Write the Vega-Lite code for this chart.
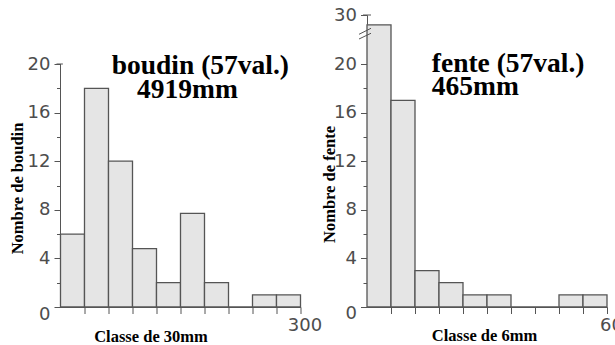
{
  "$schema": "https://vega.github.io/schema/vega-lite/v6.json",
  "autosize": {"type": "none"},
  "padding": {"left": 60.5, "top": 15, "right": 554.5, "bottom": 330},
  "background": "white",
  "bounds": "flush",
  "spacing": 66.5,
  "config": {
    "view": {"stroke": null},
    "axis": {
      "grid": false,
      "domainColor": "#555555",
      "tickColor": "#555555",
      "labelColor": "#4d4d4d",
      "labelFont": "DejaVu Sans",
      "labelFontSize": 18,
      "labelOverlap": false,
      "labelFlush": false,
      "titleFont": "Liberation Serif",
      "titleFontWeight": "bold",
      "titleFontSize": 16.5,
      "titleColor": "#000000"
    }
  },
  "datasets": {
    "boudin": [
      {"start": 0, "end": 30, "count": 6},
      {"start": 30, "end": 60, "count": 18},
      {"start": 60, "end": 90, "count": 12},
      {"start": 90, "end": 120, "count": 4.8},
      {"start": 120, "end": 150, "count": 2},
      {"start": 150, "end": 180, "count": 7.7},
      {"start": 180, "end": 210, "count": 2},
      {"start": 210, "end": 240, "count": 0},
      {"start": 240, "end": 270, "count": 1},
      {"start": 270, "end": 300, "count": 1}
    ],
    "fente": [
      {"start": 0, "end": 6, "count": 28},
      {"start": 6, "end": 12, "count": 17},
      {"start": 12, "end": 18, "count": 3},
      {"start": 18, "end": 24, "count": 2},
      {"start": 24, "end": 30, "count": 1},
      {"start": 30, "end": 36, "count": 1},
      {"start": 36, "end": 42, "count": 0},
      {"start": 42, "end": 48, "count": 0},
      {"start": 48, "end": 54, "count": 1},
      {"start": 54, "end": 60, "count": 1}
    ],
    "one": [{}]
  },
  "hconcat": [
    {
      "width": 240,
      "height": 292,
      "layer": [
        {
          "data": {"name": "boudin"},
          "mark": {"type": "bar", "fill": "#e5e5e5", "stroke": "#555555", "strokeWidth": 1.3, "clip": false},
          "encoding": {
            "x": {
              "field": "start", "type": "quantitative",
              "scale": {"domain": [0, 300], "nice": false, "zero": false},
              "axis": {
                "values": [30, 60, 90, 120, 150, 180, 210, 240, 270, 300],
                "tickCount": 100,
                "labelExpr": "datum.value == 300 ? '300' : ''",
                "labelOverlap": false,
                "labelFlush": false,
                "tickSize": 6.5,
                "labelPadding": 3,
                "labelOffset": 4,
                "title": "Classe de 30mm",
                "titleX": 90,
                "titleY": 34,
                "titleBaseline": "alphabetic",
                "titleAnchor": null
              }
            },
            "x2": {"field": "end"},
            "y": {
              "field": "count", "type": "quantitative",
              "scale": {"domain": [0, 20, 30], "range": [292, 49, 0], "nice": false, "zero": false},
              "axis": {
                "values": [0, 2, 4, 6, 8, 10, 12, 14, 16, 18, 20],
                "tickCount": 100,
                "format": "d",
                "labelExpr": "datum.value % 4 == 0 ? datum.label : ''",
                "labelOverlap": false,
                "tickSize": {"condition": {"test": "datum.value % 4 != 0", "value": 4}, "value": 6.5},
                "labelOffset": {"condition": {"test": "datum.value == 0", "value": 7}, "value": 0},
                "labelPadding": 4,
                "domain": false,
                "title": "Nombre de boudin",
                "titleX": -38,
                "titleY": 173,
                "titleAlign": "center",
                "titleBaseline": "alphabetic",
                "titleAngle": -90
              }
            },
            "y2": {"datum": 0}
          }
        },
        {
          "data": {"name": "one"},
          "mark": {"type": "rule", "color": "#555555", "strokeWidth": 1},
          "encoding": {
            "x": {"datum": 0},
            "y": {"datum": 0},
            "y2": {"datum": 20}
          }
        },
        {
          "data": {"name": "one"},
          "mark": {"type": "rule", "color": "#555555", "strokeWidth": 1, "clip": false},
          "encoding": {
            "x": {"datum": -5},
            "x2": {"datum": 3},
            "y": {"datum": 20}
          }
        },
        {
          "data": {"name": "one"},
          "mark": {"type": "text", "font": "Liberation Serif", "fontWeight": "bold", "fontSize": 27.5, "align": "left", "baseline": "alphabetic", "color": "#000000"},
          "encoding": {
            "x": {"datum": 64},
            "y": {"datum": 19.18},
            "text": {"value": "boudin (57val.)"}
          }
        },
        {
          "data": {"name": "one"},
          "mark": {"type": "text", "font": "Liberation Serif", "fontWeight": "bold", "fontSize": 27.5, "align": "left", "baseline": "alphabetic", "color": "#000000"},
          "encoding": {
            "x": {"datum": 95.6},
            "y": {"datum": 17.18},
            "text": {"value": "4919mm"}
          }
        }
      ]
    },
    {
      "width": 240,
      "height": 292,
      "layer": [
        {
          "data": {"name": "fente"},
          "mark": {"type": "bar", "fill": "#e5e5e5", "stroke": "#555555", "strokeWidth": 1.3, "clip": false},
          "encoding": {
            "x": {
              "field": "start", "type": "quantitative",
              "scale": {"domain": [0, 60], "nice": false, "zero": false},
              "axis": {
                "values": [6, 12, 18, 24, 30, 36, 42, 48, 54, 60],
                "tickCount": 100,
                "labelExpr": "datum.value == 60 ? '60' : ''",
                "labelOverlap": false,
                "labelFlush": false,
                "tickSize": 6.5,
                "labelPadding": 3,
                "labelOffset": 4,
                "title": "Classe de 6mm",
                "titleX": 117,
                "titleY": 33,
                "titleBaseline": "alphabetic",
                "titleAnchor": null
              }
            },
            "x2": {"field": "end"},
            "y": {
              "field": "count", "type": "quantitative",
              "scale": {"domain": [0, 20, 30], "range": [292, 49, 0], "nice": false, "zero": false},
              "axis": {
                "values": [0, 2, 4, 6, 8, 10, 12, 14, 16, 18, 20, 30],
                "tickCount": 100,
                "format": "d",
                "labelExpr": "(datum.value % 4 == 0 || datum.value == 30) ? datum.label : ''",
                "labelOverlap": false,
                "labelFlush": false,
                "tickSize": {"condition": {"test": "datum.value % 4 != 0 && datum.value != 30", "value": 4}, "value": 6.5},
                "labelOffset": {"condition": {"test": "datum.value == 0", "value": 6}, "value": 0},
                "labelPadding": 4,
                "title": "Nombre de fente",
                "titleX": -33,
                "titleY": 169,
                "titleAlign": "center",
                "titleBaseline": "alphabetic",
                "titleAngle": -90
              }
            },
            "y2": {"datum": 0}
          }
        },
        {
          "data": {"name": "one"},
          "mark": {"type": "rule", "color": "#555555", "strokeWidth": 1, "clip": false},
          "encoding": {
            "x": {"datum": -1},
            "x2": {"datum": 1},
            "y": {"datum": 30}
          }
        },
        {
          "data": {"name": "one"},
          "mark": {"type": "rule", "color": "#555555", "strokeWidth": 1, "clip": false},
          "encoding": {
            "x": {"datum": -2},
            "x2": {"datum": 1},
            "y": {"datum": 26.06},
            "y2": {"datum": 27.29}
          }
        },
        {
          "data": {"name": "one"},
          "mark": {"type": "rule", "color": "#555555", "strokeWidth": 1, "clip": false},
          "encoding": {
            "x": {"datum": -2},
            "x2": {"datum": 1},
            "y": {"datum": 25.1},
            "y2": {"datum": 26.27}
          }
        },
        {
          "data": {"name": "one"},
          "mark": {"type": "text", "font": "Liberation Serif", "fontWeight": "bold", "fontSize": 27.5, "align": "left", "baseline": "alphabetic", "color": "#000000"},
          "encoding": {
            "x": {"datum": 16.2},
            "y": {"datum": 19.37},
            "text": {"value": "fente (57val.)"}
          }
        },
        {
          "data": {"name": "one"},
          "mark": {"type": "text", "font": "Liberation Serif", "fontWeight": "bold", "fontSize": 27.5, "align": "left", "baseline": "alphabetic", "color": "#000000"},
          "encoding": {
            "x": {"datum": 16.2},
            "y": {"datum": 17.45},
            "text": {"value": "465mm"}
          }
        }
      ]
    }
  ]
}
